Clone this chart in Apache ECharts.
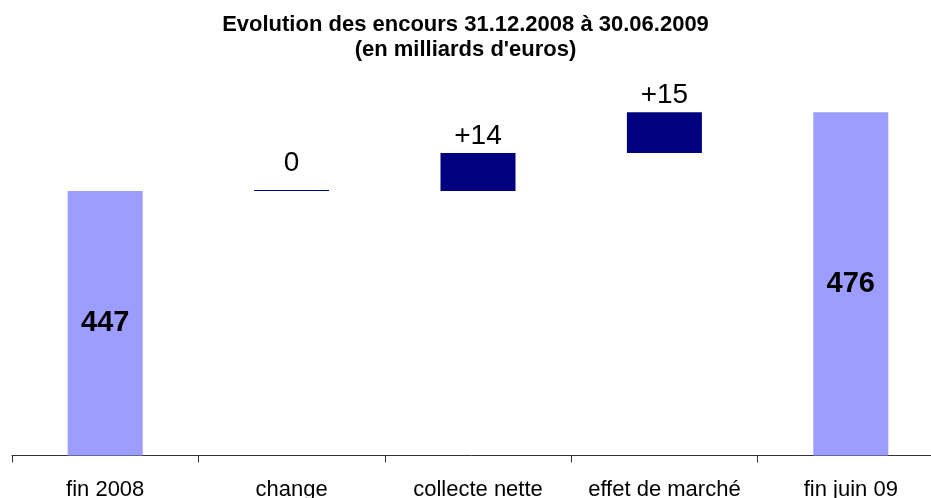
<!DOCTYPE html>
<html>
<head>
<meta charset="utf-8">
<script src="https://cdn.jsdelivr.net/npm/echarts@6/dist/echarts.min.js"></script>
<style>html,body{margin:0;padding:0;background:#fff}#c{width:931px;height:498px}</style>
</head>
<body>
<div id="c"></div>
<script>
var categories = ['fin 2008', 'change', 'collecte nette', 'effet de marché', 'fin juin 09'];
var totals = [447, null, null, null, 476];
var deltas = [null, 0, 14, 15, null];

// waterfall bases computed from the data
var base = [];
var running = 0;
for (var i = 0; i < categories.length; i++) {
  if (totals[i] != null) { running = totals[i]; base.push(0); }
  else { base.push(running); running += deltas[i]; }
}

var chart = echarts.init(document.getElementById('c'));
var FONT = 'Liberation Sans, Arial, sans-serif';
chart.setOption({
  animation: false,
  title: {
    text: 'Evolution des encours 31.12.2008 à 30.06.2009\n(en milliards d\'euros)',
    left: 'center',
    top: 7,
    textStyle: { fontFamily: FONT, fontSize: 22, fontWeight: 'bold', color: '#000', lineHeight: 25 }
  },
  grid: { left: 12, width: 932, top: 100, bottom: 42.5, outerBoundsMode: 'none', containLabel: false },
  xAxis: {
    type: 'category',
    data: categories,
    axisLine: { lineStyle: { color: '#333', width: 1 } },
    axisTick: { show: true, length: 7, interval: 0, lineStyle: { color: '#333' } },
    axisLabel: { fontFamily: FONT, fontSize: 22, color: '#000', margin: 23, interval: 0 }
  },
  yAxis: { type: 'value', min: 349.5, max: 480.5, show: false, splitLine: { show: false } },
  series: [
    {
      type: 'bar', stack: 'w', barWidth: 75,
      itemStyle: { color: 'transparent' },
      data: base, silent: true
    },
    {
      type: 'bar', stack: 'w', barWidth: 75,
      itemStyle: { color: '#9d9dff' },
      label: { show: true, position: 'inside', fontFamily: FONT, fontSize: 29, fontWeight: 'bold', color: '#000' },
      data: totals.map(function (v) { return v == null ? '-' : v; })
    },
    {
      type: 'bar', stack: 'w', barWidth: 75, barMinHeight: 1,
      itemStyle: { color: '#000080' },
      label: {
        show: true, position: 'top', distance: 3, fontFamily: FONT, fontSize: 28, color: '#000',
        formatter: function (p) { return p.value > 0 ? '+' + p.value : String(p.value); }
      },
      data: deltas.map(function (v) {
        if (v == null) return '-';
        if (v === 0) return { value: v, label: { distance: 13 } };
        return v;
      })
    }
  ]
});
</script>
</body>
</html>
